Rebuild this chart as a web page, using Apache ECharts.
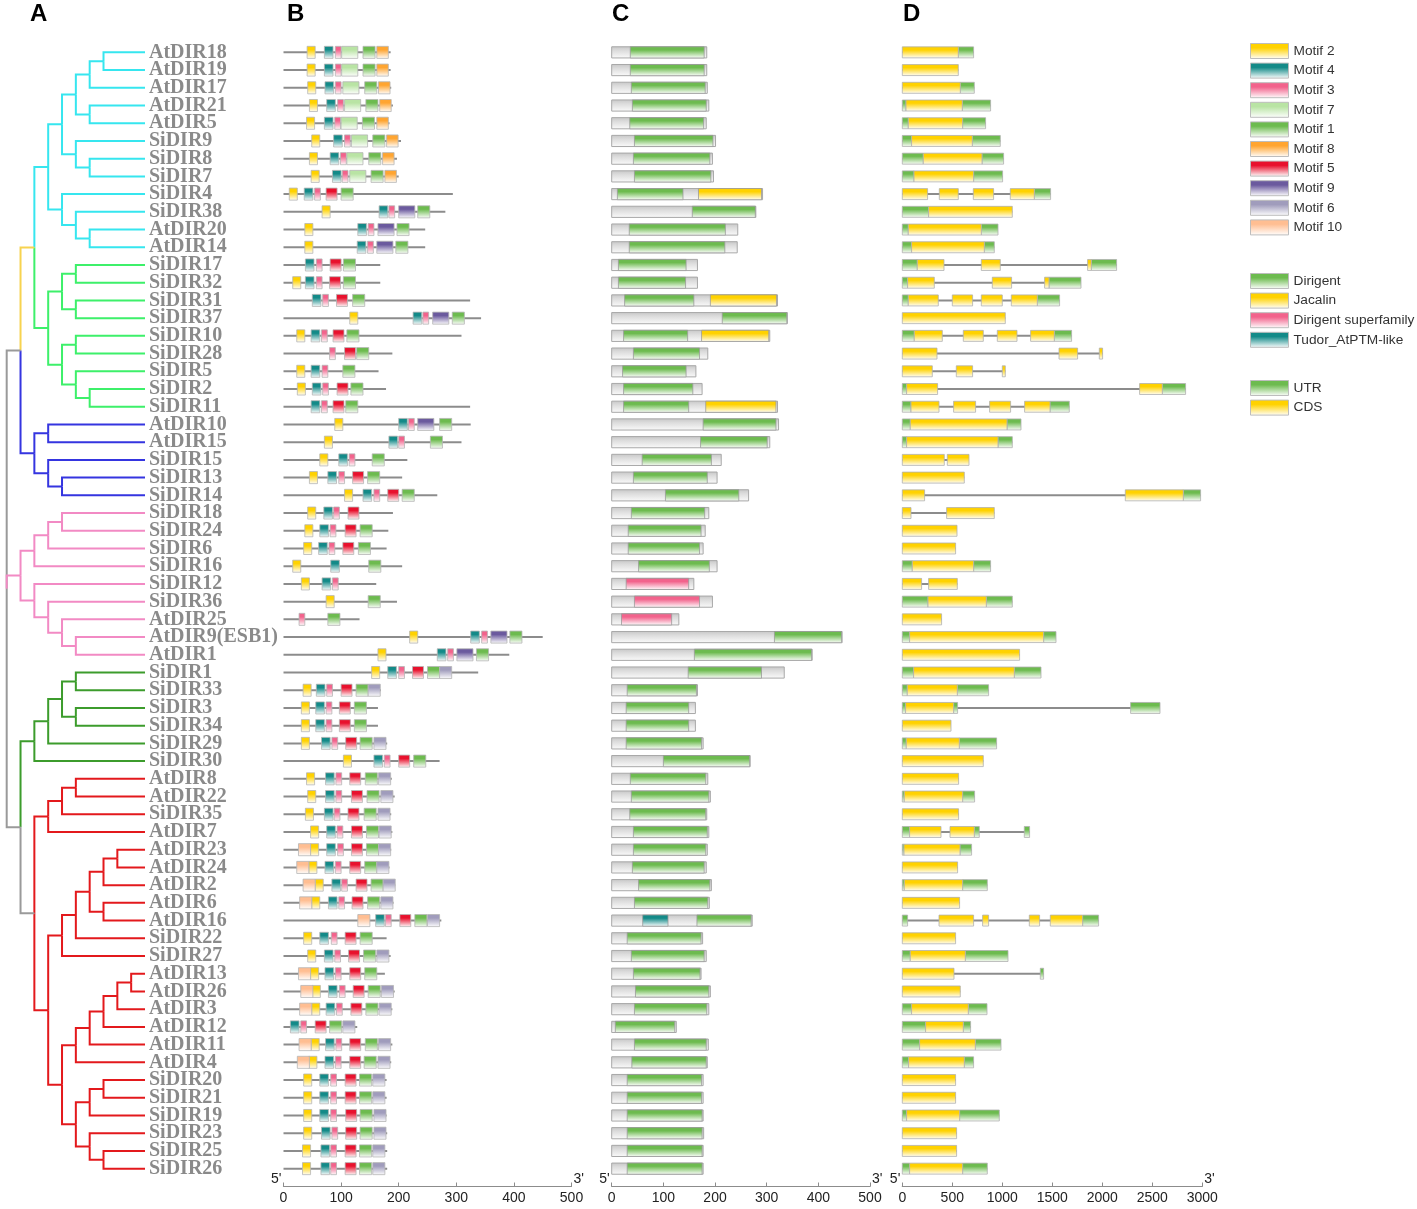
<!DOCTYPE html>
<html>
<head>
<meta charset="utf-8">
<script src="https://cdn.jsdelivr.net/npm/echarts/dist/echarts.min.js"></script>
<style>
  html, body { margin: 0; padding: 0; background: #fff; }
  #main { width: 1417px; height: 1209px; }
</style>
</head>
<body>
<div id="main"></div>
<script>
var genes = ['AtDIR18','AtDIR19','AtDIR17','AtDIR21','AtDIR5','SiDIR9','SiDIR8','SiDIR7','SiDIR4','SiDIR38',
  'AtDIR20','AtDIR14','SiDIR17','SiDIR32','SiDIR31','SiDIR37','SiDIR10','SiDIR28','SiDIR5','SiDIR2',
  'SiDIR11','AtDIR10','AtDIR15','SiDIR15','SiDIR13','SiDIR14','SiDIR18','SiDIR24','SiDIR6','SiDIR16',
  'SiDIR12','SiDIR36','AtDIR25','AtDIR9(ESB1)','AtDIR1','SiDIR1','SiDIR33','SiDIR3','SiDIR34','SiDIR29',
  'SiDIR30','AtDIR8','AtDIR22','SiDIR35','AtDIR7','AtDIR23','AtDIR24','AtDIR2','AtDIR6','AtDIR16',
  'SiDIR22','SiDIR27','AtDIR13','AtDIR26','AtDIR3','AtDIR12','AtDIR11','AtDIR4','SiDIR20','SiDIR21',
  'SiDIR19','SiDIR23','SiDIR25','SiDIR26'];

// tree: arrays are clades, a leading '#..' string colours the branch into that clade
var tree = ['#9a9a9a',
  [
    ['#f7d350',
      ['#36e6ef',
        [
          [[['AtDIR18','AtDIR19'],'AtDIR17'],['AtDIR21','AtDIR5']],
          ['SiDIR9',['SiDIR8','SiDIR7']]
        ],
        ['SiDIR4',['SiDIR38',['AtDIR20','AtDIR14']]]
      ],
      ['#3df06a',
        [['SiDIR17','SiDIR32'],['SiDIR31','SiDIR37']],
        [['SiDIR10','SiDIR28'],['SiDIR5',['SiDIR2','SiDIR11']]]
      ]
    ],
    ['#3535e0', ['AtDIR10','AtDIR15'], ['SiDIR15',['SiDIR13','SiDIR14']]]
  ],
  ['#f28ac4',
    [[['SiDIR18','SiDIR24'],'SiDIR6'],'SiDIR16'],
    ['SiDIR12',['SiDIR36',['AtDIR25',['AtDIR9(ESB1)','AtDIR1']]]]
  ],
  [
    ['#3c9c2c', [[['SiDIR1','SiDIR33'],['SiDIR3','SiDIR34']],'SiDIR29'], 'SiDIR30'],
    [
      ['#e3191c', [['AtDIR8','AtDIR22'],'SiDIR35'], 'AtDIR7'],
      ['#e3191c',
        [[[[['AtDIR23','AtDIR24'],'AtDIR2'],['AtDIR6','AtDIR16']],'SiDIR22'],'SiDIR27'],
        [
          [[[[['AtDIR13','AtDIR26'],'AtDIR3'],'AtDIR12'],'AtDIR11'],'AtDIR4'],
          [[['SiDIR20','SiDIR21'],'SiDIR19'],['SiDIR23',['SiDIR25','SiDIR26']]]
        ]
      ]
    ]
  ]
];

// B: protein length and motif starts [motif, start]
var protLen = [186,186,187,190,184,204,197,200,294,281,246,246,168,168,324,343,309,189,165,178,
  324,325,309,215,206,267,190,182,179,206,161,197,132,450,392,338,169,164,164,180,
  271,188,193,187,189,187,184,194,191,274,179,186,176,193,189,128,189,187,179,179,
  179,180,180,180];
var motifOrder = [2,4,3,7,1,8,5,9,6,10];
var motifColor = {2:'#ffd200',4:'#138a88',3:'#f2638c',7:'#b9e4a4',1:'#6dbb4f',8:'#ffa531',5:'#e8112d',9:'#6b5a9e',6:'#a09cbc',10:'#ffbe92'};
var motifWidth = {1:21,2:14,3:10,4:15,5:19,6:21,7:28,8:20,9:28,10:21};
var motifs = [
  [[2,41],[4,71],[3,90],[7,101],[1,138],[8,162]],
  [[2,41],[4,71],[3,90],[7,101],[1,138],[8,162]],
  [[2,42],[4,72],[3,90],[7,103],[1,141],[8,165]],
  [[2,45],[4,75],[3,94],[7,106],[1,143],[8,167]],
  [[2,40],[4,71],[3,89],[7,100],[1,137],[8,162]],
  [[2,49],[4,87],[3,106],[7,118],[1,155],[8,179]],
  [[2,45],[4,81],[3,99],[7,110],[1,148],[8,172]],
  [[2,48],[4,85],[3,102],[7,115],[1,152],[8,176]],
  [[2,10],[4,36],[3,54],[5,74],[1,100]],
  [[2,67],[4,166],[3,183],[9,200],[1,233]],
  [[2,37],[4,129],[3,147],[9,164],[1,197]],
  [[2,37],[4,128],[3,146],[9,162],[1,195]],
  [[4,38],[3,57],[5,81],[1,104]],
  [[2,16],[4,38],[3,57],[5,80],[1,104]],
  [[4,50],[3,68],[5,92],[1,120]],
  [[2,115],[4,225],[3,242],[9,259],[1,293]],
  [[2,23],[4,48],[3,66],[5,86],[1,110]],
  [[3,80],[5,106],[1,127]],
  [[2,23],[4,48],[3,67],[1,103]],
  [[2,24],[4,50],[3,68],[5,93],[1,117]],
  [[4,48],[3,66],[5,86],[1,108]],
  [[2,89],[4,200],[3,217],[9,233],[1,271]],
  [[2,71],[4,183],[3,200],[1,255]],
  [[2,63],[4,96],[3,114],[1,154]],
  [[2,45],[4,77],[3,96],[5,120],[1,146]],
  [[2,106],[4,138],[3,157],[5,181],[1,206]],
  [[2,42],[4,70],[3,87],[5,112]],
  [[2,37],[4,63],[3,81],[5,107],[1,133]],
  [[2,35],[4,61],[3,79],[5,103],[1,130]],
  [[2,16],[4,82],[1,148]],
  [[2,31],[4,67],[3,85]],
  [[2,74],[1,147]],
  [[3,27],[1,77]],
  [[2,219],[4,325],[3,344],[9,360],[1,393]],
  [[2,164],[4,267],[3,285],[9,301],[1,335]],
  [[2,153],[4,181],[3,200],[5,224],[1,250],[6,271]],
  [[2,34],[4,57],[3,75],[5,100],[1,126],[6,147]],
  [[2,31],[4,56],[3,74],[5,97],[1,123]],
  [[2,31],[4,56],[3,74],[5,97],[1,123]],
  [[2,31],[4,66],[3,84],[5,108],[1,133],[6,157]],
  [[2,104],[4,157],[3,175],[5,200],[1,226]],
  [[2,40],[4,73],[3,91],[5,115],[1,142],[6,165]],
  [[2,42],[4,73],[3,91],[5,118],[1,145],[6,169]],
  [[2,38],[4,71],[3,88],[5,112],[1,140],[6,164]],
  [[2,47],[4,75],[3,93],[5,118],[1,144],[6,166]],
  [[10,26],[2,47],[4,75],[3,94],[5,118],[1,144],[6,165]],
  [[10,23],[2,44],[4,72],[3,90],[5,115],[1,141],[6,162]],
  [[10,34],[2,55],[4,84],[3,101],[5,126],[1,152],[6,173]],
  [[10,28],[2,49],[4,78],[3,96],[5,119],[1,146],[6,169]],
  [[10,129],[4,160],[3,177],[5,202],[1,228],[6,250]],
  [[2,35],[4,63],[3,83],[5,107],[1,133]],
  [[2,42],[4,71],[3,89],[5,113],[1,139],[6,162]],
  [[10,26],[2,47],[4,72],[3,90],[5,115],[1,141]],
  [[10,30],[2,50],[4,78],[3,97],[5,121],[1,147],[6,170]],
  [[10,28],[2,49],[4,74],[3,92],[5,117],[1,143],[6,166]],
  [[4,12],[3,30],[5,55],[1,80],[6,103]],
  [[10,27],[2,48],[4,73],[3,91],[5,115],[1,142],[6,165]],
  [[10,24],[2,44],[4,72],[3,90],[5,115],[1,140],[6,164]],
  [[2,35],[4,63],[3,82],[5,107],[1,132],[6,155]],
  [[2,35],[4,63],[3,82],[5,107],[1,132],[6,155]],
  [[2,35],[4,63],[3,82],[5,108],[1,133],[6,157]],
  [[2,35],[4,66],[3,84],[5,108],[1,133],[6,157]],
  [[2,33],[4,65],[3,82],[5,107],[1,132],[6,155]],
  [[2,33],[4,65],[3,82],[5,107],[1,132],[6,155]]
];

// C: protein length and conserved domains [type, start, end]
var domLen = [184,184,185,188,183,201,195,197,292,279,244,243,166,166,321,340,306,186,163,175,
  321,323,306,212,204,265,188,181,177,204,159,195,130,446,388,334,166,162,162,177,
  268,186,191,184,188,185,183,193,189,272,176,183,173,191,188,125,187,185,177,177,
  177,178,177,177];
var domainNames = {D:'Dirigent', J:'Jacalin', S:'Dirigent superfamily', T:'Tudor_AtPTM-like'};
var domainColor = {D:'#6dbb4f', J:'#ffd200', S:'#f2638c', T:'#138a88'};
var domains = [
  [['D',36,179]],[['D',36,179]],[['D',38,181]],[['D',40,183]],[['D',35,178]],
  [['D',44,196]],[['D',42,190]],[['D',44,192]],[['D',11,138],['J',168,290]],[['D',156,278]],
  [['D',34,220]],[['D',34,219]],[['D',13,144]],[['D',13,143]],[['D',25,159],['J',191,319]],
  [['D',214,339]],[['D',23,147],['J',174,304]],[['D',42,170]],[['D',21,144]],[['D',23,157]],
  [['D',23,149],['J',182,318]],[['D',177,318]],[['D',172,301]],[['D',59,193]],[['D',42,185]],
  [['D',104,246]],[['D',38,180]],[['D',32,173]],[['D',32,170]],[['D',52,189]],
  [['S',28,149]],[['S',44,170]],[['S',19,116]],[['D',315,445]],[['D',160,387]],
  [['D',148,290]],[['D',30,164]],[['D',28,149]],[['D',28,149]],[['D',28,174]],
  [['D',100,267]],[['D',36,182]],[['D',38,188]],[['D',35,182]],[['D',42,185]],
  [['D',42,182]],[['D',40,179]],[['D',52,190]],[['D',44,186]],[['T',60,109],['D',165,270]],
  [['D',30,173]],[['D',38,179]],[['D',42,171]],[['D',46,188]],[['D',44,184]],
  [['D',7,122]],[['D',44,183]],[['D',39,183]],[['D',30,174]],[['D',30,174]],
  [['D',30,175]],[['D',30,175]],[['D',30,175]],[['D',30,175]]
];

// D: exon pieces [U = UTR / C = CDS, start, end] in bp
var exons = [
  [['C',0,560],['U',560,713]],
  [['C',0,560]],
  [['C',0,580],['U',580,720]],
  [['U',0,37],['C',37,600],['U',600,883]],
  [['U',0,60],['C',60,603],['U',603,833]],
  [['U',0,93],['C',93,700],['U',700,980]],
  [['U',0,210],['C',210,797],['U',797,1013]],
  [['U',0,117],['C',117,713],['U',713,1003]],
  [['C',0,253],['C',370,560],['C',710,913],['C',1080,1320],['U',1320,1483]],
  [['U',0,263],['C',263,1100]],
  [['U',0,60],['C',60,790],['U',790,957]],
  [['U',0,93],['C',93,820],['U',820,920]],
  [['U',0,150],['C',150,417],['C',790,980],['C',1853,1890],['U',1890,2143]],
  [['U',0,53],['C',53,320],['C',900,1093],['C',1423,1467],['U',1467,1787]],
  [['U',0,60],['C',60,360],['C',500,703],['C',790,1000],['C',1090,1350],['U',1350,1573]],
  [['C',0,1030]],
  [['U',0,120],['C',120,400],['C',610,810],['C',950,1147],['C',1283,1520],['U',1520,1693]],
  [['C',0,347],['C',1567,1753],['C',1970,2003]],
  [['C',0,300],['C',540,703],['C',1000,1030]],
  [['U',0,43],['C',43,353],['C',2373,2600],['U',2600,2833]],
  [['U',0,87],['C',87,367],['C',513,733],['C',873,1083],['C',1223,1477],['U',1477,1670]],
  [['U',0,80],['C',80,1047],['U',1047,1187]],
  [['U',0,43],['C',43,957],['U',957,1100]],
  [['C',0,420],['C',450,667]],
  [['C',0,620]],
  [['C',0,223],['C',2230,2810],['U',2810,2983]],
  [['C',0,87],['C',443,920]],
  [['C',0,547]],
  [['C',0,533]],
  [['U',0,100],['C',100,713],['U',713,883]],
  [['C',0,193],['C',263,550]],
  [['U',0,257],['C',257,840],['U',840,1100]],
  [['C',0,393]],
  [['U',0,73],['C',73,1413],['U',1413,1537]],
  [['C',0,1173]],
  [['U',0,113],['C',113,1120],['U',1120,1387]],
  [['U',0,50],['C',50,550],['U',550,863]],
  [['U',0,33],['C',33,513],['U',513,553],['U',2283,2577]],
  [['C',0,487]],
  [['U',0,40],['C',40,570],['U',570,943]],
  [['C',0,810]],
  [['C',0,563]],
  [['U',0,20],['C',20,603],['U',603,723]],
  [['C',0,563]],
  [['U',0,73],['C',73,387],['C',477,720],['U',720,770],['U',1220,1273]],
  [['U',0,17],['C',17,577],['U',577,693]],
  [['C',0,553]],
  [['U',0,20],['C',20,603],['U',603,850]],
  [['C',0,573]],
  [['U',0,53],['C',367,713],['C',803,863],['C',1270,1373],['C',1480,1803],['U',1803,1963]],
  [['C',0,533]],
  [['U',0,80],['C',80,630],['U',630,1057]],
  [['C',0,517],['U',1380,1413]],
  [['C',0,580]],
  [['U',0,93],['C',93,660],['U',660,847]],
  [['U',0,233],['C',233,610],['U',610,683]],
  [['U',0,173],['C',173,730],['U',730,987]],
  [['U',0,63],['C',63,620],['U',620,713]],
  [['C',0,533]],
  [['C',0,533]],
  [['U',0,43],['C',43,573],['U',573,970]],
  [['C',0,543]],
  [['C',0,543]],
  [['U',0,73],['C',73,603],['U',603,850]]
];
var exonNames = {U:'UTR', C:'CDS'};
var exonColor = {U:'#6dbb4f', C:'#ffd200'};

var SANS = '"Liberation Sans", Arial, sans-serif';
var SERIF = '"Liberation Serif", "Times New Roman", serif';
var TOP = 43.5, H = 1134;

function fade(c) {
  return new echarts.graphic.LinearGradient(0, 0, 0, 1, [
    {offset: 0, color: c}, {offset: 0.3, color: c}, {offset: 1, color: '#ffffff'}
  ]);
}
var grayFade = new echarts.graphic.LinearGradient(0, 0, 0, 1, [
  {offset: 0, color: '#c6c6c6'}, {offset: 0.35, color: '#dcdcdc'}, {offset: 1, color: '#fbfbfb'}
]);

// lay out the tree: x = depth from root, leaves aligned at 10
var treeSegs = [], treeColors = [];
function place(node, depth, color) {
  if (typeof node === 'string') return {x: 10, y: genes.indexOf(node), color: color};
  var kids = node;
  if (typeof node[0] === 'string' && node[0].charAt(0) === '#') { color = node[0]; kids = node.slice(1); }
  var pts = kids.map(function (k) { return place(k, depth + 1, color); });
  var y = (pts[0].y + pts[pts.length - 1].y) / 2;
  pts.forEach(function (p) {
    treeSegs.push([depth, y, p.x, p.y]);
    treeColors.push(p.color);
  });
  return {x: depth, y: y, color: color};
}
place(tree, 0, '#9a9a9a');

function box(api, x0, x1, frac) {
  var a = api.coord([x0, api.value(1)]);
  var b = api.coord([x1, api.value(1)]);
  var h = api.size([0, 1])[1] * frac;
  return {x: a[0], y: a[1] - h / 2, width: b[0] - a[0], height: h};
}

function rectSeries(name, xi, yi, data, color, frac, stroke) {
  return {
    name: name, type: 'custom', xAxisIndex: xi, yAxisIndex: yi,
    itemStyle: {color: fade(color)},
    data: data,
    renderItem: function (params, api) {
      return {
        type: 'rect',
        shape: box(api, api.value(0), api.value(2), frac),
        style: {fill: fade(color), stroke: stroke, lineWidth: 0.8}
      };
    }
  };
}

function lineSeries(xi, yi, data, color) {
  return {
    type: 'custom', xAxisIndex: xi, yAxisIndex: yi, silent: true,
    data: data,
    renderItem: function (params, api) {
      var a = api.coord([0, api.value(1)]);
      var b = api.coord([api.value(0), api.value(1)]);
      return {type: 'line', shape: {x1: a[0], y1: a[1], x2: b[0], y2: b[1]},
        style: {stroke: color, lineWidth: 2}};
    }
  };
}

function mainX(grid, max, step) {
  return {
    type: 'value', gridIndex: grid, min: 0, max: max, interval: step, position: 'bottom', offset: 9,
    axisLine: {show: true, onZero: false, lineStyle: {color: '#8c8c8c', width: 1.2}},
    axisTick: {show: true, inside: true, length: 4, lineStyle: {color: '#8c8c8c'}},
    axisLabel: {show: true, fontSize: 14, color: '#222', fontFamily: SANS, margin: 5,
      formatter: function (v) { return String(v); }},
    splitLine: {show: false},
    name: "3'", nameLocation: 'end', nameGap: 2,
    nameTextStyle: {fontSize: 14, color: '#222', fontFamily: SANS, verticalAlign: 'bottom', align: 'left'}
  };
}
function startX(grid, max) {
  return {
    type: 'value', gridIndex: grid, min: 0, max: max, position: 'bottom', offset: 9,
    axisLine: {show: false}, axisTick: {show: false}, axisLabel: {show: false}, splitLine: {show: false},
    name: "5'", nameLocation: 'start', nameGap: 2,
    nameTextStyle: {fontSize: 14, color: '#222', fontFamily: SANS, verticalAlign: 'bottom', align: 'right'}
  };
}
function hiddenY(grid) {
  return {type: 'category', gridIndex: grid, data: genes, inverse: true, show: false};
}

var series = [];
series.push({
  type: 'custom', xAxisIndex: 0, yAxisIndex: 0, silent: true,
  data: treeSegs, encode: {x: [0, 2], y: [1, 3]},
  renderItem: function (params, api) {
    var a = api.coord([api.value(0), api.value(1)]);
    var b = api.coord([api.value(0), api.value(3)]);
    var c = api.coord([api.value(2), api.value(3)]);
    return {type: 'polyline', shape: {points: [a, b, c]},
      style: {stroke: treeColors[params.dataIndex], lineWidth: 2, fill: null}};
  }
});

series.push(lineSeries(1, 2, protLen.map(function (v, i) { return [v, i]; }), '#8c8c8c'));
motifOrder.forEach(function (m) {
  var d = [];
  motifs.forEach(function (list, i) {
    list.forEach(function (p) { if (p[0] === m) d.push([p[1], i, p[1] + motifWidth[m]]); });
  });
  series.push(rectSeries('Motif ' + m, 1, 2, d, motifColor[m], 0.68, '#b5b5b5'));
});

series.push({
  type: 'custom', xAxisIndex: 3, yAxisIndex: 3, silent: true,
  data: domLen.map(function (v, i) { return [v, i]; }),
  renderItem: function (params, api) {
    return {type: 'rect', shape: box(api, 0, api.value(0), 0.63),
      style: {fill: grayFade, stroke: '#a8a8a8', lineWidth: 1}};
  }
});
['D', 'J', 'S', 'T'].forEach(function (t) {
  var d = [];
  domains.forEach(function (list, i) {
    list.forEach(function (p) { if (p[0] === t) d.push([p[1], i, p[2]]); });
  });
  series.push(rectSeries(domainNames[t], 3, 3, d, domainColor[t], 0.63, '#9a9a9a'));
});

series.push(lineSeries(5, 4, exons.map(function (list, i) { return [list[list.length - 1][2], i]; }), '#8c8c8c'));
['U', 'C'].forEach(function (t) {
  var d = [];
  exons.forEach(function (list, i) {
    list.forEach(function (p) { if (p[0] === t) d.push([p[1], i, p[2]]); });
  });
  series.push(rectSeries(exonNames[t], 5, 4, d, exonColor[t], 0.62, '#b0b0b0'));
});

function legendAt(top, names) {
  return {
    orient: 'vertical', left: 1250, top: top, itemWidth: 38, itemHeight: 15, itemGap: 3.6,
    icon: 'rect', selectedMode: false, padding: 0,
    itemStyle: {borderColor: '#bdbdbd', borderWidth: 1},
    textStyle: {fontSize: 13.7, color: '#333', fontFamily: SANS},
    data: names
  };
}

var chart = echarts.init(document.getElementById('main'));
chart.setOption({
  backgroundColor: '#fff',
  animation: false,
  title: ['A', 'B', 'C', 'D'].map(function (t, i) {
    return {text: t, left: [30, 287, 612, 903][i], top: 2, padding: 0,
      textStyle: {fontSize: 24, fontWeight: 'bold', color: '#000', fontFamily: SANS}};
  }),
  legend: [
    legendAt(43, motifOrder.map(function (m) { return 'Motif ' + m; })),
    legendAt(273, ['Dirigent', 'Jacalin', 'Dirigent superfamily', 'Tudor_AtPTM-like']),
    legendAt(380, ['UTR', 'CDS'])
  ],
  grid: [
    {left: 6.7, top: TOP, width: 138.3, height: H},
    {left: 283.5, top: TOP, width: 288, height: H},
    {left: 611.7, top: TOP, width: 258.3, height: H},
    {left: 902.3, top: TOP, width: 300, height: H}
  ],
  xAxis: [
    {type: 'value', gridIndex: 0, min: 0, max: 10, show: false},
    mainX(1, 500, 100), startX(1, 500),
    mainX(2, 500, 100), startX(2, 500),
    mainX(3, 3000, 500), startX(3, 3000)
  ],
  yAxis: [
    {type: 'value', gridIndex: 0, min: -0.5, max: 63.5, inverse: true, show: false},
    {type: 'category', gridIndex: 0, data: genes, inverse: true, position: 'right',
      axisLine: {show: false}, axisTick: {show: false},
      axisLabel: {interval: 0, margin: 4, fontSize: 20, fontWeight: 'bold', color: '#8a8a8a', fontFamily: SERIF}},
    hiddenY(1), hiddenY(2), hiddenY(3)
  ],
  series: series
});
</script>
</body>
</html>
